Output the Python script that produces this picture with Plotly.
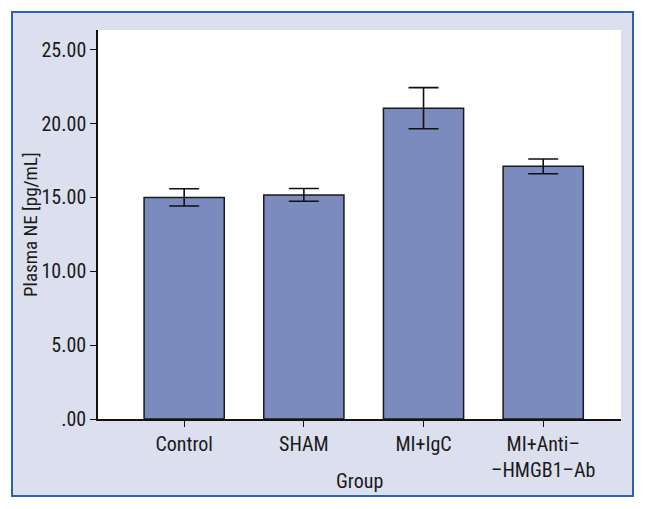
import plotly.graph_objects as go

categories = ["Control", "SHAM", "MI+IgC", "MI+Anti–<br>–HMGB1–Ab"]
means = [15.0, 15.17, 21.04, 17.1]
errors = [0.58, 0.43, 1.39, 0.5]
ytick_vals = [0, 5, 10, 15, 20, 25]
ytick_text = [".00", "5.00", "10.00", "15.00", "20.00", "25.00"]
x_title = "Group"
y_title = "Plasma NE [pg/mL]"

W, H = 646, 509
L, R, T, B = 98, 25, 30, 90
pw, ph = W - L - R, H - T - B

def px_x(x):
    return (x - L) / pw

def px_y(y):
    return (H - B - y) / ph

FONT = "Liberation Sans Narrow, Arial Narrow, Roboto Condensed, Liberation Sans, sans-serif"

xs = list(range(len(categories)))
fig = go.Figure()
fig.add_trace(go.Bar(
    x=xs, y=means, width=0.67,
    marker=dict(color="#7b8bbd", line=dict(color="#1a1a1a", width=1.5)),
    error_y=dict(type="data", array=errors, visible=True, color="#111111", thickness=1.6, width=15),
))

fig.update_layout(
    width=W, height=H,
    margin=dict(l=L, r=R, t=T, b=B),
    paper_bgcolor="white",
    plot_bgcolor="rgba(0,0,0,0)",
    showlegend=False,
    font=dict(family=FONT, color="#1a1a1a", size=20),
    xaxis=dict(
        range=[-0.72, 3.65],
        tickvals=xs, ticktext=categories,
        showline=True, linecolor="#111111", linewidth=1.5,
        ticks="outside", ticklen=6, tickwidth=1.2, tickcolor="#111111",
        showgrid=False, zeroline=False, automargin=False,
        tickfont=dict(size=20),
    ),
    yaxis=dict(
        range=[0, 26.33],
        tickvals=ytick_vals, ticktext=ytick_text,
        showline=True, linecolor="#111111", linewidth=1.5,
        ticks="outside", ticklen=6, tickwidth=1.2, tickcolor="#111111",
        showgrid=False, zeroline=False, automargin=False,
        tickfont=dict(size=20),
    ),
    annotations=[
        dict(text=x_title, xref="paper", yref="paper", x=0.5, y=px_y(481),
             xanchor="center", yanchor="middle", showarrow=False, font=dict(size=20)),
        dict(text=y_title, xref="paper", yref="paper", x=px_x(31), y=px_y(225),
             xanchor="center", yanchor="middle", showarrow=False, textangle=-90,
             font=dict(size=19)),
    ],
    shapes=[
        dict(type="rect", xref="paper", yref="paper", layer="below",
             x0=px_x(12), x1=px_x(633), y0=px_y(496), y1=px_y(12),
             fillcolor="#dcdfee", line=dict(color="#2a64ad", width=2)),
        dict(type="rect", xref="paper", yref="paper", layer="below",
             x0=0, x1=1, y0=0, y1=1,
             fillcolor="white", line=dict(width=0)),
    ],
)

fig.write_html("out.html", config={"displayModeBar": False},
               post_script="document.body.style.margin='0';document.body.style.overflow='hidden';")
